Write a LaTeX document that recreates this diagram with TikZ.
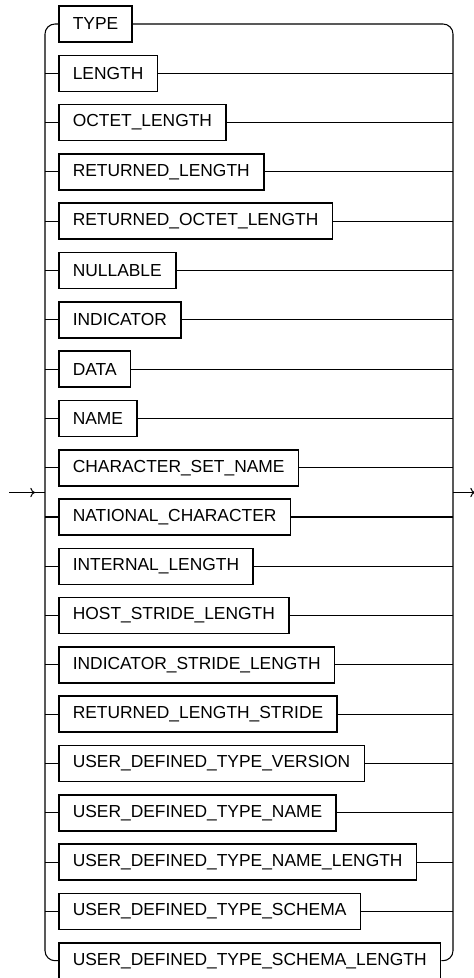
\documentclass[tikz,border=0pt]{standalone}
\usepackage{fontspec}
\setmainfont{Liberation Sans}
\usepackage{tikz}
\usetikzlibrary{arrows.meta}

\begin{document}
\begin{tikzpicture}[x=0.75pt,y=-0.75pt,
    kw/.style={draw, rectangle, line width=1.2pt, anchor=west,
      minimum height=27pt, inner xsep=10.5pt,
      font=\fontsize{13.05}{15}\selectfont},
    rail/.style={line width=0.8pt},
    tip/.style={-{To[length=3.5pt,width=7pt]}}]
            \useasboundingbox (0,0) rectangle (474,978);
            \foreach \kw [count=\i] in {TYPE, LENGTH, OCTET\_LENGTH,
                RETURNED\_LENGTH, RETURNED\_OCTET\_LENGTH, NULLABLE,
                INDICATOR, DATA, NAME, CHARACTER\_SET\_NAME,
                NATIONAL\_CHARACTER, INTERNAL\_LENGTH,
                HOST\_STRIDE\_LENGTH, INDICATOR\_STRIDE\_LENGTH,
                RETURNED\_LENGTH\_STRIDE, USER\_DEFINED\_TYPE\_VERSION,
                USER\_DEFINED\_TYPE\_NAME, USER\_DEFINED\_TYPE\_NAME\_LENGTH,
                USER\_DEFINED\_TYPE\_SCHEMA,
                USER\_DEFINED\_TYPE\_SCHEMA\_LENGTH}
                \node[kw] (k\i) at (58,{24+49.3*(\i-1)}) {\kw};
            \coordinate (lrail) at (45,492.5);
            \coordinate (rrail) at (453,492.5);
            \coordinate (in) at (9,492.5);
            \coordinate (intip) at (35,492.5);
            \coordinate (out) at (475,492.5);
            \draw[rail, rounded corners=7.5pt] (k1.west) -- (k1.west -| lrail)
                -- (k20.west -| lrail) -- (k20.west);
            \draw[rail, rounded corners=7.5pt] (k1.east) -- (k1.east -| rrail)
                -- (k20.east -| rrail) -- (k20.east);
            \foreach \i in {2,...,19} {
                \draw[rail] (k\i.west -| lrail) -- (k\i.west);
                \draw[rail] (k\i.east) -- (k\i.east -| rrail);
            }
            \draw[rail, tip] (in) -- (intip);
            \draw[rail] (intip) -- (lrail);
            \draw[rail, tip] (rrail) -- (out);
        \end{tikzpicture}
\end{document}
